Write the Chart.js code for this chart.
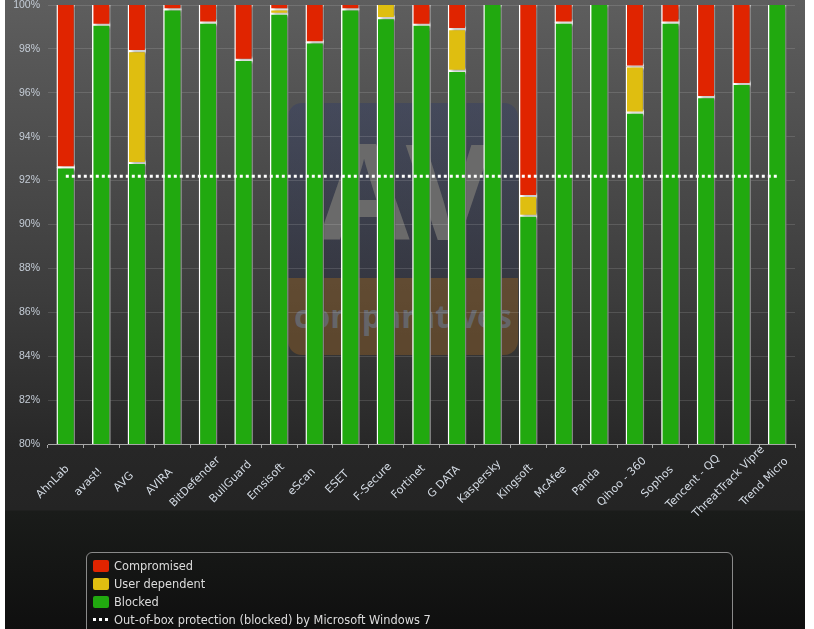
<!DOCTYPE html>
<html>
<head>
<meta charset="utf-8">
<title>Real-World Protection Test</title>
<script src="https://cdn.jsdelivr.net/npm/chart.js@4"></script>
<style>
    html, body { margin: 0; padding: 0; background: #fff; overflow: hidden; }
    #page {
        position: absolute; left: 5px; top: 0; width: 800px; height: 629px; overflow: hidden;
        background: linear-gradient(#5e5e5e 0, #3c3c3c 300px, #272727 450px, #242424 510px, #1a1c1a 511px, #0f0f0f 629px);
    }
    #wmNavy {
        position: absolute; left: 283px; top: 103px; width: 230px; height: 175px;
        border-radius: 14px 14px 0 0;
        background: linear-gradient(rgba(55,65,100,.5), rgba(40,45,70,.4));
    }
    #wmAV {
        position: absolute; left: 283px; top: 103px; width: 230px; text-align: center;
        font: bold 132px/172px "Open Sans"; color: #6a6a6a; letter-spacing: -4px;
    }
    #wmOrange {
        position: absolute; left: 283px; top: 278px; width: 230px; height: 77px;
        border-radius: 0 0 14px 14px; background: rgba(125,85,40,.55);
        font: bold 32px/76px "Open Sans"; color: rgba(105,115,130,.7); text-align: center;
    }
    #chartBox { position: absolute; left: 0; top: 0; width: 814px; height: 629px; }
    #legendBox {
        position: absolute; left: 86px; top: 552px; width: 647px; height: 100px;
        border: 1px solid #8a8a8a; border-radius: 6px; box-sizing: border-box;
        padding: 4px 0 0 6px;
        font: 11.4px/18px "DejaVu Sans"; color: #dcdcdc;
    }
    .row { height: 18px; white-space: nowrap; }
    .sw { display: inline-block; width: 16px; height: 12px; border-radius: 2px; margin-right: 5px; vertical-align: -2px; }
    .dots { display: inline-block; width: 16px; height: 3px; margin-right: 5px; vertical-align: 3px;
        background: repeating-linear-gradient(90deg, #fff 0 3px, transparent 3px 6px); }
</style>
</head>
<body>
<div id="page">
    <div id="wmNavy"></div>
    <div id="wmAV">AV</div>
    <div id="wmOrange">comparatives</div>
</div>
<div id="chartBox"><canvas id="myChart" width="814" height="629"></canvas></div>
<div id="legendBox"></div>
<script>
    const vendors = ['AhnLab', 'avast!', 'AVG', 'AVIRA', 'BitDefender', 'BullGuard', 'Emsisoft', 'eScan', 'ESET', 'F-Secure', 'Fortinet',
        'G DATA', 'Kaspersky', 'Kingsoft', 'McAfee', 'Panda', 'Qihoo - 360', 'Sophos', 'Tencent - QQ', 'ThreatTrack Vipre', 'Trend Micro'];
    const blocked = [92.6, 99.1, 92.8, 99.8, 99.2, 97.5, 99.6, 98.3, 99.8, 99.4, 99.1, 97.0, 100, 90.4, 99.2, 100, 95.1, 99.2, 95.8, 96.4, 100];
    const userDependent = [null, null, 5.1, null, null, null, 0.2, null, null, 0.6, null, 1.9, null, 0.9, null, null, 2.1, null, null, null, null];
    const compromised = [7.4, 0.9, 2.1, 0.2, 0.8, 2.5, 0.2, 1.7, 0.2, null, 0.9, 1.1, null, 8.7, 0.8, null, 2.8, 0.8, 4.2, 3.6, null];
    const windowsBaseline = vendors.map(() => 92.2);

    const red = '#e02400', yellow = '#dfbe10', green = '#21a90f';

    // bars throw a soft shadow to the right, the line does not
    const barShadow = {
        id: 'barShadow',
        beforeDatasetDraw(chart, args) {
            if (args.meta.type !== 'bar') return;
            chart.ctx.save();
            chart.ctx.shadowColor = 'rgba(0,0,0,0.55)';
            chart.ctx.shadowOffsetX = 3;
            chart.ctx.shadowBlur = 3;
        },
        afterDatasetDraw(chart, args) {
            if (args.meta.type === 'bar') chart.ctx.restore();
        }
    };

    // labels are rotated around their middle, which the built in ticks cant do
    const slantedLabels = {
        id: 'slantedLabels',
        afterDraw(chart) {
            const ctx = chart.ctx, xs = chart.scales.x;
            ctx.save();
            ctx.font = '11px "DejaVu Sans"';
            ctx.fillStyle = '#d4dbe4';
            ctx.textAlign = 'center';
            ctx.textBaseline = 'middle';
            vendors.forEach((name, k) => {
                ctx.save();
                ctx.translate(xs.getPixelForTick(k) - 13, xs.top + 38);
                ctx.rotate(-Math.PI / 4);
                ctx.fillText(name, 0, 0);
                ctx.restore();
            });
            ctx.restore();
        }
    };

    // the segment that reaches 100% has no white line on top
    function skipTop(ctx) {
        const k = ctx.dataIndex;
        const upTo = [blocked[k], userDependent[k], compromised[k]].slice(0, ctx.datasetIndex).reduce((a, b) => a + (b || 0), 0);
        return upTo >= 99.95 ? 'top' : false;
    }
    const barStyle = { borderColor: '#fff', borderWidth: 1.4, borderSkipped: skipTop, barThickness: 18 };

    new Chart(document.getElementById('myChart'), {
        type: 'bar',
        data: {
            labels: vendors,
            datasets: [
                { type: 'line', label: 'Out-of-box protection (blocked) by Microsoft Windows 7', data: windowsBaseline,
                  borderColor: '#fff', borderWidth: 3, borderDash: [3, 3], pointRadius: 0, order: -1 },
                { label: 'Blocked', data: blocked, backgroundColor: green, ...barStyle },
                { label: 'User dependent', data: userDependent, backgroundColor: yellow, ...barStyle },
                { label: 'Compromised', data: compromised, backgroundColor: red, ...barStyle }
            ]
        },
        options: {
            responsive: false,
            animation: false,
            devicePixelRatio: 1,
            layout: { padding: { top: 5, right: 19, left: 0, bottom: 0 } },
            plugins: { legend: { display: false }, tooltip: { enabled: false } },
            scales: {
                x: {
                    stacked: true,
                    afterFit(scale) { scale.height = 185; },
                    border: { color: '#a8a8a8', width: 1 },
                    grid: { drawOnChartArea: false, color: '#a8a8a8', tickLength: 4 },
                    ticks: { display: false }
                },
                y: {
                    stacked: true,
                    min: 80,
                    max: 100,
                    // plot top sits right at the top label, so no extra room for it
                    afterFit(scale) { scale.width = 48; scale.paddingTop = 0; scale.paddingBottom = 0; },
                    border: { display: false },
                    grid: { color: 'rgba(255,255,255,0.13)', drawTicks: false },
                    ticks: {
                        stepSize: 2,
                        padding: 8,
                        color: '#c4ccd6',
                        font: { family: 'Liberation Sans', size: 10.5 },
                        callback: v => v + '%'
                    }
                }
            }
        },
        plugins: [barShadow, slantedLabels]
    });

    // legend is html because of the rounded box running off the page
    const legendRows = [['Compromised', red], ['User dependent', yellow], ['Blocked', green], ['Out-of-box protection (blocked) by Microsoft Windows 7', null]];
    document.getElementById('legendBox').innerHTML = legendRows.map(r =>
        '<div class="row">' + (r[1] ? '<span class="sw" style="background:' + r[1] + '"></span>' : '<span class="dots"></span>') + r[0] + '</div>'
    ).join('');
</script>
</body>
</html>
